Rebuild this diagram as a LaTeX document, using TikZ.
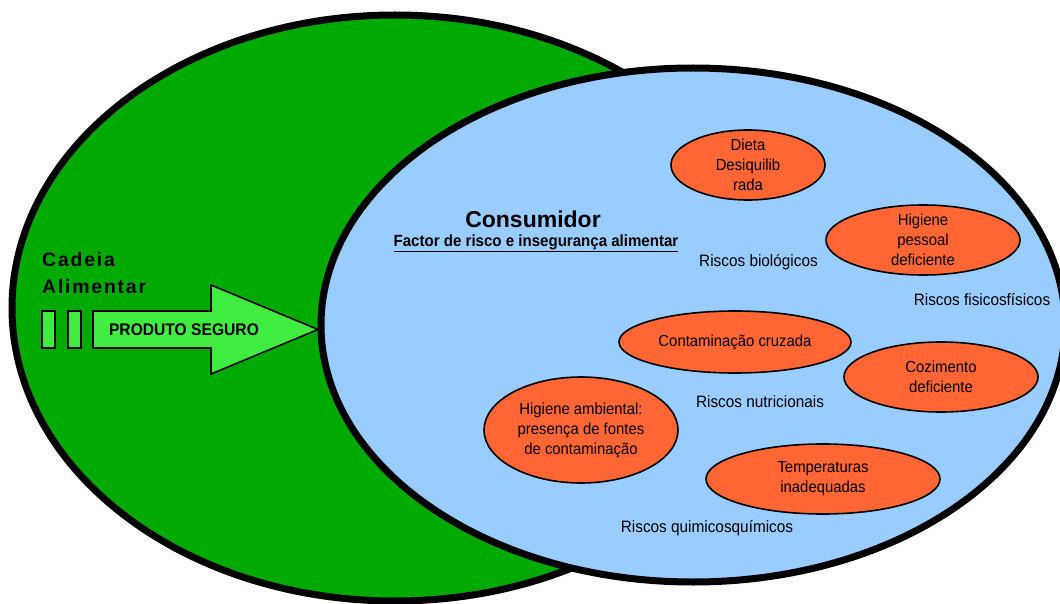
\documentclass[tikz,border=0pt]{standalone}
\usepackage{fontspec}
\setmainfont{Liberation Sans}
\newfontfamily\nf[FakeStretch=0.93]{Liberation Sans}
\newfontfamily\lsf[LetterSpace=9]{Liberation Sans}
\usetikzlibrary{shapes.geometric}
\definecolor{dgreen}{RGB}{0,170,0}
\definecolor{lblue}{RGB}{153,204,255}
\definecolor{rorange}{RGB}{255,102,51}
\definecolor{lgreen}{RGB}{64,236,64}
\tikzset{
  bigoval/.style={ellipse, draw=black, line width=7pt, inner sep=0pt},
  riskoval/.style={ellipse, draw=black, line width=1.6pt, fill=rorange, inner sep=0pt},
  ovaltext/.style={align=center, font=\nf\fontsize{16}{20}\selectfont, inner sep=0pt},
  risklabel/.style={anchor=base, font=\nf\fontsize{16.5}{20}\selectfont, inner sep=0pt},
  chaintext/.style={anchor=base west, font=\lsf\bfseries\fontsize{19.5}{27}\selectfont, inner sep=0pt},
  lightbox/.style={draw=black, line width=1.6pt, fill=lgreen},
}
\begin{document}
\begin{tikzpicture}[x=1pt,y=-1pt]
\useasboundingbox (0,0) rectangle (1060,604);
\clip (0,0) rectangle (1060,604);
% main ellipses
\node[bigoval, fill=dgreen, minimum width=766pt, minimum height=586pt] (chain) at (395,308) {};
\node[bigoval, fill=lblue, minimum width=744pt, minimum height=514pt] (cons) at (693,325) {};
% left side
\node[chaintext] (cadeia) at (42,266) {Cadeia};
\node[chaintext] (alim) at (42,293) {Alimentar};
\draw[lightbox] (42,311) rectangle (55,348);
\draw[lightbox] (68,311) rectangle (81,348);
\draw[lightbox, line join=miter] (93,311) -- (211,311) -- (211,285) -- (318,329.5) -- (211,374) -- (211,348) -- (93,348) -- cycle;
\node[font=\nf\bfseries\fontsize{16.8}{20}\selectfont, inner sep=0pt] (produto) at (184,330) {PRODUTO SEGURO};
% consumer titles
\node[anchor=base, font=\bfseries\fontsize{23}{26}\selectfont, inner sep=0pt] (consumidor) at (533,227) {Consumidor};
\node[anchor=base, font=\nf\bfseries\fontsize{16.2}{20}\selectfont, inner sep=0pt] (factor) at (536,246) {\underline{Factor de risco e insegurança alimentar}};
% risk ovals
\node[riskoval, minimum width=154pt, minimum height=70pt] (dieta) at (748,165) {};
\node[ovaltext] (dietat) at (dieta) {Dieta\\Desiquilib\\rada};
\node[riskoval, minimum width=194pt, minimum height=70pt] (higp) at (923,240) {};
\node[ovaltext] (higpt) at (higp) {Higiene\\pessoal\\deficiente};
\node[riskoval, minimum width=232pt, minimum height=62pt] (contam) at (735,342) {};
\node[ovaltext] (contamt) at (contam) {Contaminação cruzada};
\node[riskoval, minimum width=194pt, minimum height=70pt] (cozim) at (941,377) {};
\node[ovaltext] (cozimt) at (cozim) {Cozimento\\deficiente};
\node[riskoval, minimum width=194pt, minimum height=106pt] (higa) at (581,430) {};
\node[ovaltext] (higat) at (higa) {Higiene ambiental:\\presença de fontes\\de contaminação};
\node[riskoval, minimum width=234pt, minimum height=70pt] (temp) at (823,479) {};
\node[ovaltext] (tempt) at (temp) {Temperaturas\\inadequadas};
% risk labels
\node[risklabel] (rbio) at (758.5,266) {Riscos biológicos};
\node[risklabel] (rfis) at (982,305) {Riscos fisicosfísicos};
\node[risklabel] (rnut) at (760,407) {Riscos nutricionais};
\node[risklabel] (rqui) at (707,532) {Riscos quimicosquímicos};
\end{tikzpicture}
\end{document}
